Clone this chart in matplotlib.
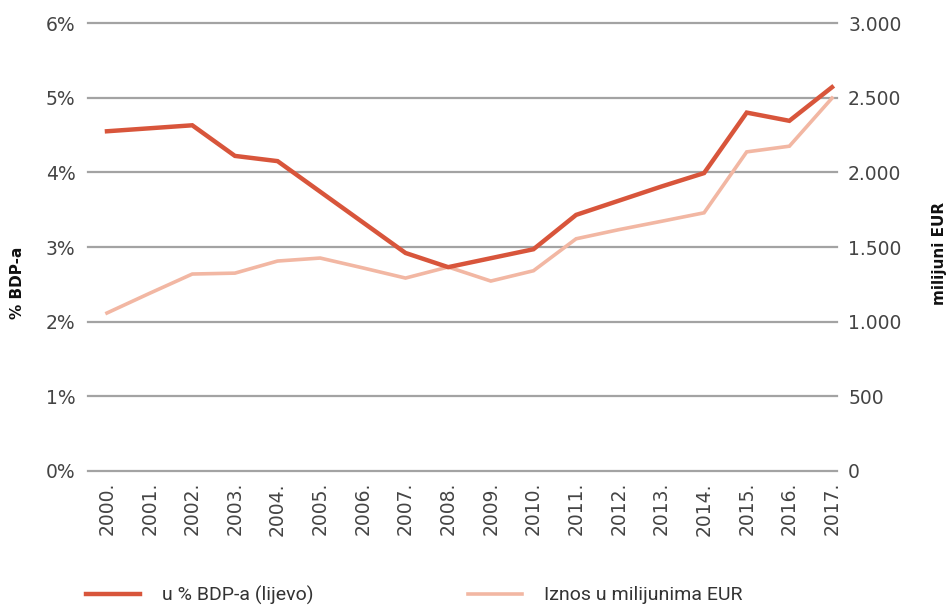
import matplotlib
matplotlib.use("Agg")
import matplotlib.pyplot as plt
from matplotlib.ticker import FuncFormatter, FixedLocator

years = ["2000.", "2001.", "2002.", "2003.", "2004.", "2005.", "2006.", "2007.", "2008.",
         "2009.", "2010.", "2011.", "2012.", "2013.", "2014.", "2015.", "2016.", "2017."]
pct_gdp = [4.55, 4.59, 4.63, 4.22, 4.15, 3.74, 3.33, 2.92, 2.73,
           2.85, 2.97, 3.43, 3.62, 3.81, 3.99, 4.80, 4.69, 5.14]
amount_meur = [1058, 1190, 1319, 1325, 1406, 1426, 1360, 1292, 1366,
               1272, 1341, 1555, 1616, 1672, 1729, 2137, 2175, 2497]

label_red = "u % BDP-a (lijevo)"
label_light = "Iznos u milijunima EUR"
left_ticks = [0, 1, 2, 3, 4, 5, 6]
right_ticks = [0, 500, 1000, 1500, 2000, 2500, 3000]

RED = "#d8553b"
LIGHT = "#f2b7a3"
GRID = "#a3a3a3"
TXT = "#444444"

W, H = 953, 608
fig = plt.figure(figsize=(W / 100, H / 100), dpi=100)
L, R, T, B = 88, 837, 23, 471
ax2 = fig.add_axes([L / W, 1 - B / H, (R - L) / W, (B - T) / H])
ax = ax2.twinx()

x = list(range(len(years)))

# back axis: amounts (right scale) + gridlines
ax2.plot(x, amount_meur, color=LIGHT, lw=2.6, solid_joinstyle="miter", label=label_light)
ax2.set_ylim(0, 3000)
ax2.yaxis.set_major_locator(FixedLocator(right_ticks))
ax2.yaxis.tick_right()
ax2.yaxis.set_major_formatter(FuncFormatter(lambda v, p: f"{int(v):,}".replace(",", ".")))
ax2.grid(axis="y", color=GRID, lw=1.6)
ax2.set_axisbelow(True)

# front axis: % of GDP (left scale)
ax.plot(x, pct_gdp, color=RED, lw=3.2, solid_joinstyle="miter", label=label_red)
ax.set_ylim(0, 6)
ax.yaxis.set_major_locator(FixedLocator(left_ticks))
ax.yaxis.tick_left()
ax.yaxis.set_major_formatter(FuncFormatter(lambda v, p: f"{int(v)}%"))

ax2.set_zorder(0)
ax.set_zorder(1)
ax.patch.set_visible(False)

for a in (ax, ax2):
    for s in a.spines.values():
        s.set_visible(False)
    a.set_xlim(-0.445, len(years) - 1 + 0.117)

ax2.set_xticks(x)
ax2.set_xticklabels(years, rotation=90, fontsize=13.5, color=TXT)
ax2.tick_params(axis="x", length=0, pad=8)
ax.tick_params(axis="x", bottom=False, labelbottom=False, top=False, labeltop=False)
ax2.tick_params(axis="y", length=0, pad=8, labelsize=13.5, labelcolor=TXT,
                left=False, labelleft=False, right=False, labelright=True)
ax.tick_params(axis="y", length=0, pad=9, labelsize=13.5, labelcolor=TXT,
               left=False, labelleft=True, right=False, labelright=False)

for gl in ax2.get_ygridlines():
    gl.set_clip_on(False)

fig.text(18 / W, 1 - 283 / H, "% BDP-a", rotation=90, ha="center", va="center",
         fontsize=11, fontweight="bold", color="#111111")
fig.text(940 / W, 1 - 253 / H, "milijuni EUR", rotation=90, ha="center", va="center",
         fontsize=11, fontweight="bold", color="#111111")

h1, l1 = ax.get_legend_handles_labels()
h2, l2 = ax2.get_legend_handles_labels()
fig.legend(h1 + h2, l1 + l2, ncol=2, frameon=False, loc="center left",
           bbox_to_anchor=(86 / W, 1 - 595 / H), borderpad=0, borderaxespad=0,
           handlelength=2.8, handletextpad=1.1, columnspacing=7.95,
           prop={"family": "Roboto", "size": 14}, labelcolor="#333333")

fig.savefig("out.png", dpi=100, facecolor="white")
